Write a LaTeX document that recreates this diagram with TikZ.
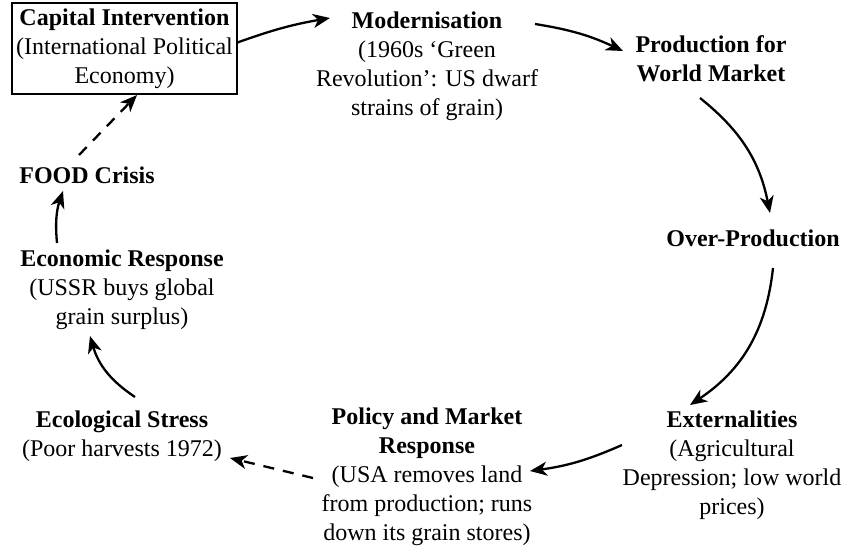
\documentclass[tikz,border=0pt]{standalone}
\usepackage{fontspec}
\setmainfont{Liberation Serif}
\usetikzlibrary{arrows.meta}
\begin{document}
\begin{tikzpicture}[x=1pt,y=-1pt,
  lbl/.style={align=center,inner sep=0pt,font=\fontsize{24}{29}\selectfont},
  capbox/.style={lbl,draw,line width=1.2pt,minimum width=225pt,minimum height=91pt},
  conn/.style={line width=2.3pt,-{Stealth[length=17pt,width=14pt,inset=5pt]}},
  dconn/.style={conn,dash pattern=on 11pt off 9pt}]
\useasboundingbox (0,0) rectangle (843,547);
\node[capbox] (cap) at (124.5,48.5) {\textbf{Capital Intervention}\\(International Political\\Economy)};
\node[lbl] (mod) at (427,66) {\textbf{Modernisation}\\(1960s ‘Green\\Revolution’: US dwarf\\strains of grain)};
\node[lbl] (prod) at (711,59) {\textbf{Production for}\\\textbf{World Market}};
\node[lbl] (over) at (753,238) {\textbf{Over-Production}};
\node[lbl] (ext) at (732,465) {\textbf{Externalities}\\(Agricultural\\Depression; low world\\prices)};
\node[lbl] (pol) at (427,477) {\textbf{Policy and Market}\\\textbf{Response}\\(USA removes land\\from production; runs\\down its grain stores)};
\node[lbl] (eco) at (122,436) {\textbf{Ecological Stress}\\(Poor harvests 1972)};
\node[lbl] (econ) at (122,290) {\textbf{Economic Response}\\(USSR buys global\\grain surplus)};
\node[lbl] (food) at (87,175) {\textbf{FOOD Crisis}};
\draw[conn] ([shift={(113,-6)}]cap.center) to[bend left=5] ([shift={(-97,-48)}]mod.center);
\draw[conn] ([shift={(108,-42)}]mod.center) to[bend left=8] ([shift={(-88,-8)}]prod.center);
\draw[conn] ([shift={(-11,39)}]prod.center) to[bend left=20] ([shift={(17,-25)}]over.center);
\draw[conn] ([shift={(20,30)}]over.center) to[bend left=25] ([shift={(-42,-60)}]ext.center);
\draw[conn] ([shift={(-110,-20)}]ext.center) to[bend left=8] ([shift={(103,-6)}]pol.center);
\draw[dconn] ([shift={(-114,1)}]pol.center) -- ([shift={(108,22)}]eco.center);
\draw[conn] ([shift={(13,-39)}]eco.center) to[bend left=20] ([shift={(-32,46)}]econ.center);
\draw[conn] ([shift={(-65,-47)}]econ.center) to[bend left=12] ([shift={(-24,16)}]food.center);
\draw[dconn] ([shift={(-8,-20)}]food.center) -- ([shift={(12.5,46.5)}]cap.center);
\end{tikzpicture}
\end{document}
